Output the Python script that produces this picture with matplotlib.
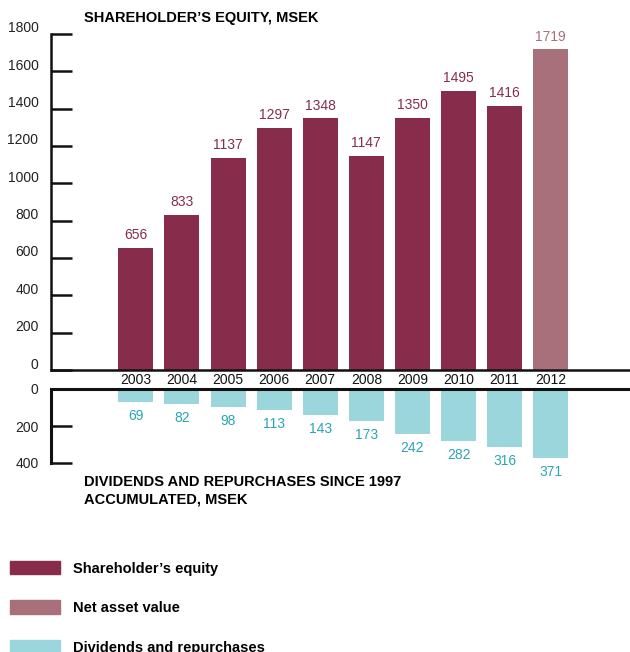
import matplotlib.pyplot as plt
from matplotlib.patches import Patch
from matplotlib.transforms import ScaledTranslation

# data
years = ['2003', '2004', '2005', '2006', '2007', '2008', '2009', '2010', '2011', '2012']
equity = [656, 833, 1137, 1297, 1348, 1147, 1350, 1495, 1416, 1719]
dividends = [69, 82, 98, 113, 143, 173, 242, 282, 316, 371]
top_ticks = [0, 200, 400, 600, 800, 1000, 1200, 1400, 1600, 1800]
bottom_ticks = [0, 200, 400]

c_equity = '#872d4b'
c_nav = '#a8707b'
c_div = '#9bd6dd'
c_div_text = '#2aa5b4'
c_axis = '#111111'

plt.rcParams['font.family'] = ['Liberation Sans', 'DejaVu Sans']

fig = plt.figure(figsize=(6.3, 6.52), dpi=100)
W, H = 630, 652

x = list(range(len(years)))
bar_colors = [c_equity] * (len(years) - 1) + [c_nav]
xlim = (-1.84, 10.72)

# upper panel: shareholder's equity
ax1 = fig.add_axes([51 / W, 1 - 370 / H, 579 / W, 336 / H])
ax1.bar(x, equity, width=0.76, color=bar_colors)
ax1.set_xlim(*xlim)
ax1.set_ylim(0, 1800)
ax1.set_yticks(top_ticks)
for s in ['top', 'right']:
    ax1.spines[s].set_visible(False)
for s in ['left', 'bottom']:
    ax1.spines[s].set_linewidth(1.8)
    ax1.spines[s].set_color(c_axis)
ax1.tick_params(axis='y', direction='in', length=15, width=1.8, pad=9,
                labelsize=10, labelcolor='#222222', color=c_axis)
ax1.set_xticks(x, years)
ax1.tick_params(axis='x', length=0, pad=2, labelsize=10, labelcolor='#111111')
for lab in ax1.get_yticklabels():
    lab.set_transform(lab.get_transform() + ScaledTranslation(0, 0.07, fig.dpi_scale_trans))
for xi, v, c in zip(x, equity, bar_colors):
    ax1.annotate(str(v), (xi, v), xytext=(0, 4), textcoords='offset points',
                 ha='center', va='bottom', fontsize=10, color=c)

# lower panel: dividends and repurchases
ax2 = fig.add_axes([51 / W, 1 - 463 / H, 579 / W, 74 / H])
ax2.bar(x, dividends, width=0.76, color=c_div)
ax2.set_xlim(*xlim)
ax2.set_ylim(400, 0)
ax2.set_yticks(bottom_ticks)
ax2.set_xticks([])
for s in ['bottom', 'right']:
    ax2.spines[s].set_visible(False)
for s in ['left', 'top']:
    ax2.spines[s].set_linewidth(2.2)
    ax2.spines[s].set_color(c_axis)
ax2.tick_params(axis='y', direction='in', length=15, width=1.8, pad=9,
                labelsize=10, labelcolor='#222222', color=c_axis)
for xi, v in zip(x, dividends):
    ax2.annotate(str(v), (xi, v), xytext=(0, -5), textcoords='offset points',
                 ha='center', va='top', fontsize=10, color=c_div_text)

# titles
fig.text(84 / W, 1 - 18 / H, 'SHAREHOLDER\u2019S EQUITY, MSEK',
         fontweight='bold', fontsize=10.5, va='center', ha='left')
fig.text(84 / W, 1 - 491 / H, 'DIVIDENDS AND REPURCHASES SINCE 1997\nACCUMULATED, MSEK',
         fontweight='bold', fontsize=10.5, va='center', ha='left', linespacing=1.3)

# legend
handles = [Patch(color=c_equity, label='Shareholder\u2019s equity'),
           Patch(color=c_nav, label='Net asset value'),
           Patch(color=c_div, label='Dividends and repurchases')]
fig.legend(handles=handles, loc='upper left', bbox_to_anchor=(10 / W, 1 - 561 / H),
           frameon=False, borderpad=0, borderaxespad=0, handlelength=3.42,
           handleheight=1.03, handletextpad=0.89, labelspacing=1.7,
           prop={'weight': 'bold', 'size': 10.5})

fig.savefig('out.png', dpi=100)
